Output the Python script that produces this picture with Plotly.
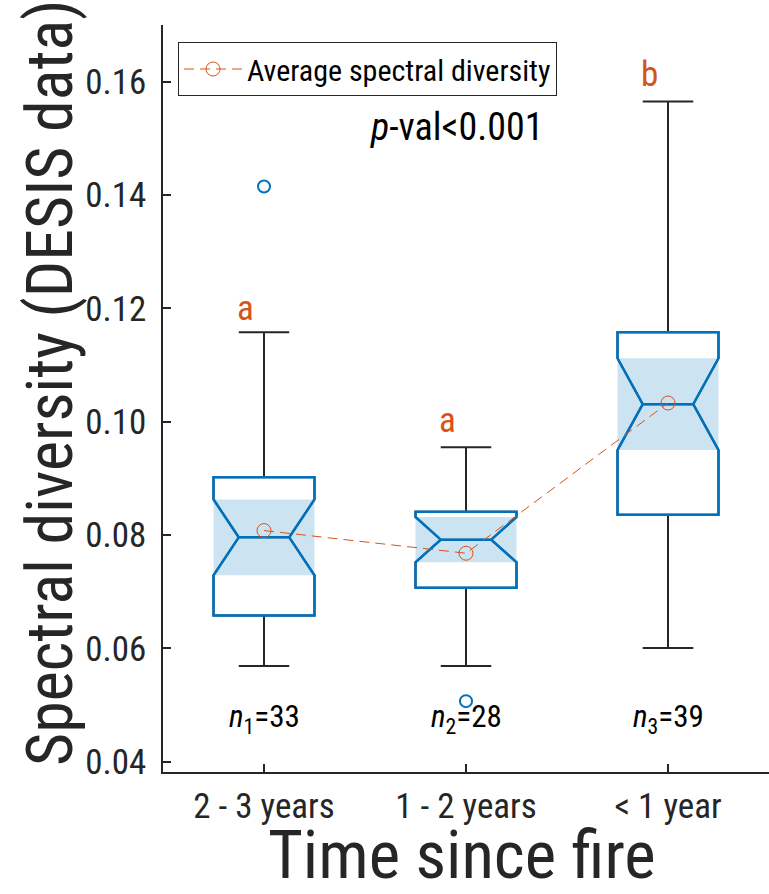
import plotly.graph_objects as go

# ---- data ----
categories = ["2 - 3 years", "1 - 2 years", "< 1 year"]
positions = [1, 2, 3]
q1 = [0.0658, 0.0707, 0.0836]
median = [0.0796, 0.0792, 0.1031]
q3 = [0.0902, 0.0841, 0.1158]
lower_whisker = [0.0569, 0.0569, 0.0601]
upper_whisker = [0.1158, 0.0955, 0.1565]
notch_span = [0.0067, 0.0040, 0.0081]
means = [0.0808, 0.0768, 0.1033]
outlier_x = [1, 2]
outlier_y = [0.1415, 0.0507]
group_letters = ["a", "a", "b"]
letter_y = [0.1200, 0.1003, 0.1612]
sample_sizes = [33, 28, 39]
n_label_y = 0.0476
y_ticks = [0.04, 0.06, 0.08, 0.10, 0.12, 0.14, 0.16]
y_tick_text = ["0.04", "0.06", "0.08", "0.10", "0.12", "0.14", "0.16"]

BLUE = "#0072BD"
ORANGE = "#D95319"
DARK = "#262626"
FONT = "Roboto Condensed, Liberation Sans Narrow, Liberation Sans, sans-serif"
HALF = 0.25

fig = go.Figure()

# notch-interval shaded rectangles
rx, ry = [], []
for p, m, s in zip(positions, median, notch_span):
    rx += [p - HALF, p + HALF, p + HALF, p - HALF, p - HALF, None]
    ry += [m - s, m - s, m + s, m + s, m - s, None]
fig.add_trace(go.Scatter(x=rx, y=ry, fill="toself", fillcolor="rgba(0,114,189,0.2)",
                         line=dict(width=0), mode="lines", hoverinfo="skip", showlegend=False))

common = dict(x=positions, q1=q1, median=median, q3=q3,
              notched=True, notchspan=notch_span, notchwidth=0.25,
              width=0.5, boxpoints=False,
              fillcolor="rgba(0,0,0,0)", showlegend=False, hoverinfo="skip")
# black whiskers (box outline hidden below the blue one)
fig.add_trace(go.Box(line=dict(color=DARK, width=2), lowerfence=lower_whisker,
                     upperfence=upper_whisker, whiskerwidth=0.5, **common))
# blue box outline on top, without whiskers
fig.add_trace(go.Box(line=dict(color=BLUE, width=2.5), lowerfence=q1, upperfence=q3,
                     whiskerwidth=0, **common))

# outliers
fig.add_trace(go.Scatter(x=outlier_x, y=outlier_y, mode="markers",
                         marker=dict(symbol="circle-open", size=12, color=BLUE,
                                     line=dict(width=2, color=BLUE)),
                         showlegend=False, hoverinfo="skip"))

# mean line
fig.add_trace(go.Scatter(x=positions, y=means, mode="lines+markers",
                         name="Average spectral diversity",
                         line=dict(color=ORANGE, width=1, dash="10px,6px"),
                         marker=dict(symbol="circle-open", size=14, color=ORANGE,
                                     line=dict(width=1, color=ORANGE))))

annotations = []
for p, l, y in zip(positions, group_letters, letter_y):
    annotations.append(dict(x=p - 0.09, y=y, xref="x", yref="y", text=l, showarrow=False,
                            xanchor="center", yanchor="middle",
                            font=dict(family=FONT, size=35, color=ORANGE)))
for i, (p, n) in enumerate(zip(positions, sample_sizes), start=1):
    annotations.append(dict(x=p, y=n_label_y, xref="x", yref="y",
                            text=f"<i>n</i><sub>{i}</sub>={n}", showarrow=False,
                            xanchor="center", yanchor="middle",
                            font=dict(family=FONT, size=31, color="black")))
annotations.append(dict(x=(457 - 163) / 606, y=(772 - 127) / 747, xref="paper", yref="paper",
                        text="<i>p</i>-val<0.001", showarrow=False,
                        xanchor="center", yanchor="middle",
                        font=dict(family=FONT, size=38, color="black")))
annotations.append(dict(x=(50 - 163) / 606, y=(772 - 383) / 747, xref="paper", yref="paper",
                        text="Spectral diversity (DESIS data)", textangle=-90, showarrow=False,
                        xanchor="center", yanchor="middle",
                        font=dict(family=FONT, size=64, color=DARK)))
annotations.append(dict(x=(462 - 163) / 606, y=(772 - 855) / 747, xref="paper", yref="paper",
                        text="Time since fire", showarrow=False,
                        xanchor="center", yanchor="middle",
                        font=dict(family=FONT, size=67, color=DARK)))

fig.update_layout(
    width=769, height=894,
    margin=dict(l=163, r=0, t=25, b=122),
    plot_bgcolor="white", paper_bgcolor="white",
    boxmode="overlay",
    font=dict(family=FONT, color=DARK),
    annotations=annotations,
    legend=dict(x=(178 - 163) / 606, y=(772 - 42) / 747, xanchor="left", yanchor="top",
                bordercolor=DARK, borderwidth=1, bgcolor="white",
                font=dict(family=FONT, size=30, color="black"),
                itemwidth=58, tracegroupgap=0),
    xaxis=dict(range=[0.5, 3.5], tickvals=positions, ticktext=categories,
               showline=True, linecolor=DARK, linewidth=1.5, ticks="inside", ticklen=8,
               tickcolor=DARK, tickwidth=1.5, showgrid=False, zeroline=False,
               tickfont=dict(family=FONT, size=35, color=DARK), ticklabelstandoff=2),
    yaxis=dict(range=[0.0382, 0.1700], tickvals=y_ticks, ticktext=y_tick_text,
               showline=True, linecolor=DARK, linewidth=1.5, ticks="inside", ticklen=8,
               tickcolor=DARK, tickwidth=1.5, showgrid=False, zeroline=False,
               tickfont=dict(family=FONT, size=35, color=DARK), ticklabelstandoff=8),
)

fig.write_html("out.html", post_script="document.body.style.margin='0';",
               config={"displayModeBar": False})
